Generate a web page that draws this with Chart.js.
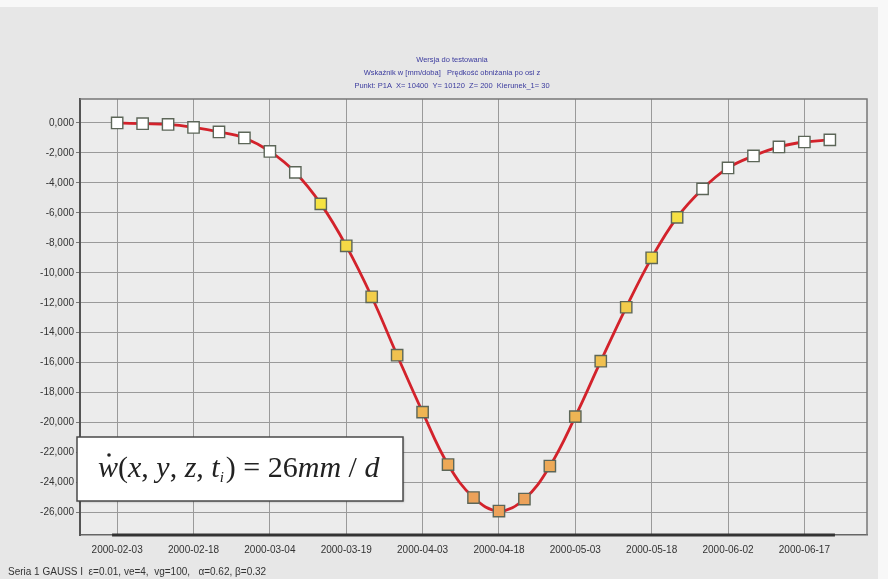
<!DOCTYPE html>
<html>
<head>
<meta charset="utf-8">
<script src="https://cdn.jsdelivr.net/npm/chart.js@4.4.0/dist/chart.umd.min.js"></script>
<style>
  html, body { margin: 0; padding: 0; background: #f8f8f8; }
  #wrap { width: 888px; height: 579px; position: relative; }
</style>
</head>
<body>
<div id="wrap"><canvas id="myChart"></canvas></div>
<script>
// data (mm/doba, every 5 days)
const pointDates = [
  '2000-02-03', '2000-02-08', '2000-02-13', '2000-02-18', '2000-02-23', '2000-02-28',
  '2000-03-04', '2000-03-09', '2000-03-14', '2000-03-19', '2000-03-24', '2000-03-29',
  '2000-04-03', '2000-04-08', '2000-04-13', '2000-04-18', '2000-04-23', '2000-04-28',
  '2000-05-03', '2000-05-08', '2000-05-13', '2000-05-18', '2000-05-23', '2000-05-28',
  '2000-06-02', '2000-06-07', '2000-06-12', '2000-06-17', '2000-06-22'
]
const values = [
  0, -0.05, -0.1, -0.3, -0.6, -1.0,
  -1.9, -3.3, -5.4, -8.2, -11.6, -15.5,
  -19.3, -22.8, -25.0, -25.9, -25.1, -22.9,
  -19.6, -15.9, -12.3, -9.0, -6.3, -4.4,
  -3.0, -2.2, -1.6, -1.27, -1.13
]
const tickDates = [
  '2000-02-03', '2000-02-18', '2000-03-04', '2000-03-19', '2000-04-03',
  '2000-04-18', '2000-05-03', '2000-05-18', '2000-06-02', '2000-06-17'
]
const yTicks = [0, -2, -4, -6, -8, -10, -12, -14, -16, -18, -20, -22, -24, -26]
const baseDates = ['2000-02-02', '2000-06-23']

const titleLines = [
  'Wersja do testowania',
  'Wskaźnik w [mm/doba]   Prędkość obniżania po osi z',
  'Punkt: P1A  X= 10400  Y= 10120  Z= 200  Kierunek_1= 30'
]
const footerText = 'Seria 1 GAUSS I  ε=0.01, ve=4,  vg=100,   α=0.62, β=0.32'

const yMin = -27.5
const yMax = 1.6

const dayOf = (s) => {
  const [y, m, d] = s.split('-').map(Number)
  const [y0, m0, d0] = pointDates[0].split('-').map(Number)
  return (Date.UTC(y, m - 1, d) - Date.UTC(y0, m0 - 1, d0)) / 86400000
}

const fillFor = (v) => {
  const a = -v
  if (a < 4.8) return '#ffffff'
  const t = Math.min(1, (a - 5) / 20)
  const r = Math.round(245 - 9 * t)
  const g = Math.round(228 - 66 * t)
  const b = Math.round(66 + 24 * t)
  return `rgb(${r},${g},${b})`
}

const decor = {
  id: 'decor',
  beforeDraw(chart) {
    const { ctx, chartArea: a } = chart
    ctx.save()
    ctx.fillStyle = '#e7e7e7'
    ctx.fillRect(0, 7, 878, 572)
    ctx.fillStyle = '#ececec'
    ctx.fillRect(a.left, a.top, a.right - a.left, a.bottom - a.top)
    ctx.restore()
  },
  beforeDatasetsDraw(chart) {
    const { ctx, chartArea: a } = chart
    ctx.save()
    ctx.strokeStyle = '#777'
    ctx.lineWidth = 1.5
    ctx.beginPath()
    ctx.moveTo(a.left, a.top)
    ctx.lineTo(a.right, a.top)
    ctx.lineTo(a.right, a.bottom)
    ctx.stroke()
    ctx.restore()
  },
  afterDatasetsDraw(chart) {
    const { ctx } = chart
    ctx.save()
    // title
    ctx.fillStyle = '#3b3b9e'
    ctx.font = '7.5px "Liberation Sans", Arial, sans-serif'
    ctx.textAlign = 'center'
    ctx.textBaseline = 'middle'
    titleLines.forEach((t, i) => ctx.fillText(t, 452, 60 + i * 13))

    // footer
    ctx.fillStyle = '#333'
    ctx.font = '10px "Liberation Sans", Arial, sans-serif'
    ctx.textAlign = 'left'
    ctx.textBaseline = 'alphabetic'
    ctx.fillText(footerText, 8, 575)

    // formula box
    ctx.fillStyle = '#ffffff'
    ctx.shadowColor = 'rgba(0,0,0,0.25)'
    ctx.shadowOffsetX = 1
    ctx.shadowOffsetY = 1
    ctx.shadowBlur = 2
    ctx.fillRect(77, 437, 326, 64)
    ctx.shadowColor = 'transparent'
    ctx.strokeStyle = '#4a4a4a'
    ctx.lineWidth = 1.5
    ctx.strokeRect(77, 437, 326, 64)

    const it = 'italic 30px "Liberation Serif", "Times New Roman", serif'
    const rm = '30px "Liberation Serif", "Times New Roman", serif'
    const parts = [
      ['w', it], ['(', rm], ['x', it], [', ', rm], ['y', it], [', ', rm],
      ['z', it], [', ', rm], ['t', it], ['sub', null], [') = 26', rm],
      ['mm', it], [' / ', rm], ['d', it]
    ]
    const base = 477
    let x = 98
    ctx.fillStyle = '#222'
    parts.forEach(([s, f]) => {
      if (s === 'sub') {
        ctx.font = 'italic 15px "Liberation Serif", serif'
        ctx.fillText('i', x, base + 5)
        x += ctx.measureText('i').width + 2
        return
      }
      ctx.font = f
      ctx.fillText(s, x, base)
      const w = ctx.measureText(s).width
      if (s === 'w') {
        ctx.beginPath()
        ctx.arc(x + w / 2 + 1, base - 22, 1.8, 0, Math.PI * 2)
        ctx.fill()
      }
      x += w
    })
    ctx.restore()
  }
}

const ctx = document.getElementById('myChart')
// eslint-disable-next-line no-unused-vars
const myChart = new Chart(ctx, {
  type: 'line',
  data: {
    datasets: [{
      data: pointDates.map((d, i) => ({ x: dayOf(d), y: values[i] })),
      borderColor: '#d3222b',
      borderWidth: 2.8,
      tension: 0.4,
      pointStyle: 'rect',
      pointRadius: 8,
      pointBorderWidth: 1.4,
      pointBorderColor: '#5c6658',
      pointBackgroundColor: (c) => fillFor(c.raw.y)
    }, {
      data: baseDates.map((d) => ({ x: dayOf(d), y: yMin })),
      borderColor: '#333',
      borderWidth: 3,
      pointRadius: 0,
      clip: false
    }]
  },
  options: {
    responsive: true,
    maintainAspectRatio: false,
    animation: false,
    layout: { padding: { top: 99, right: 21, left: 0, bottom: 0 } },
    plugins: {
      legend: { display: false },
      tooltip: { enabled: false }
    },
    scales: {
      x: {
        type: 'linear',
        min: -7.3,
        max: 147.3,
        afterBuildTicks: (s) => { s.ticks = tickDates.map((d) => ({ value: dayOf(d) })) },
        afterFit: (s) => { s.height = 44 },
        grid: { color: '#9a9a9a', lineWidth: 1, drawTicks: false },
        border: { color: '#666', width: 1.5 },
        ticks: {
          padding: 9,
          maxRotation: 0,
          autoSkip: false,
          color: '#333',
          font: { family: '"Liberation Sans", Arial, sans-serif', size: 10 },
          callback: (v, i) => tickDates[i]
        }
      },
      y: {
        min: yMin,
        max: yMax,
        afterBuildTicks: (s) => { s.ticks = yTicks.map((v) => ({ value: v })) },
        afterFit: (s) => { s.width = 80 },
        grid: { color: '#9a9a9a', lineWidth: 1, tickLength: 4, tickColor: '#777' },
        border: { color: '#555', width: 2 },
        ticks: {
          padding: 2,
          color: '#333',
          font: { family: '"Liberation Sans", Arial, sans-serif', size: 10 },
          callback: (v) => v.toFixed(3).replace('.', ',')
        }
      }
    }
  },
  plugins: [decor]
})
</script>
</body>
</html>
